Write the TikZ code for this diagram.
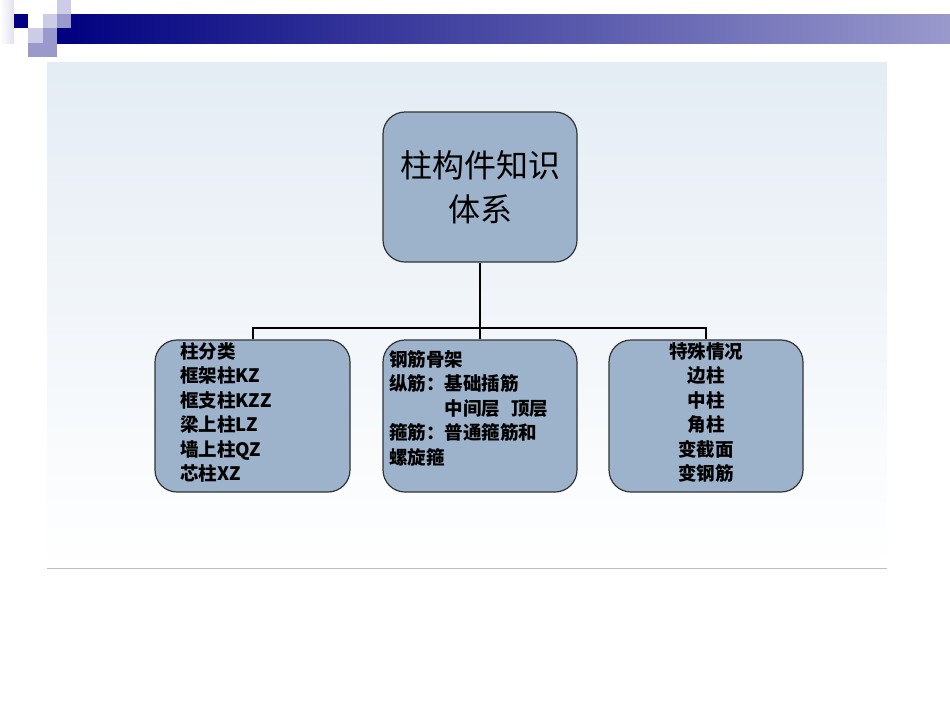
\documentclass[tikz,border=0pt]{standalone}
\usepackage{fontspec}
\newfontfamily\cjk{Noto Sans CJK SC}
\definecolor{boxfill}{HTML}{9DB3CB}
\definecolor{navy}{HTML}{000080}
\definecolor{lav}{HTML}{CCCCE6}
\definecolor{mid}{HTML}{9999CC}
\definecolor{paneltop}{HTML}{E4ECF4}
\begin{document}
\begin{tikzpicture}[x=1pt,y=-1pt,
  box/.style={draw=black!80,line width=1.2pt,fill=boxfill,rounded corners=22pt},
  lbl/.style={font=\cjk\bfseries\fontsize{18.5}{24.5}\selectfont,inner sep=0pt}]
\useasboundingbox (0,0) rectangle (950,713);
\fill[white] (0,0) rectangle (950,713);
% header decoration
\shade[left color=white,right color=lav!60] (0,0) rectangle (14,43);
\shade[left color=navy,right color=mid] (57,14) rectangle (950,43);
\fill[navy] (14,14) rectangle (28,28);
\fill[lav] (43,14) rectangle (57,28);
\fill[lav] (57,0) rectangle (71,14);
\fill[mid] (57,14) rectangle (71,28);
\fill[lav] (28,28) rectangle (43,43);
\fill[mid] (43,28) rectangle (57,43);
\fill[mid] (28,43) rectangle (57,57);
% panel
\shade[top color=paneltop,bottom color=white] (47,62) rectangle (887,568);
\draw[gray!50] (47,568) -- (887,568);
% nodes
\node[box,minimum width=194pt,minimum height=150pt] (top) at (480,187) {};
\node[font=\cjk\fontsize{32}{44}\selectfont,align=center] (toptxt) at (top) {柱构件知识\\体系};
\node[box,minimum width=195pt,minimum height=152pt] (l) at (252.5,416) {};
\node[box,minimum width=194pt,minimum height=152pt] (m) at (480,416) {};
\node[box,minimum width=194pt,minimum height=152pt] (r) at (706,416) {};
\node[lbl,align=left,anchor=north west] (lt) at (180,342) {柱分类\\框架柱KZ\\框支柱KZZ\\梁上柱LZ\\墙上柱QZ\\芯柱XZ};
\node[lbl,align=left,anchor=north west] (mt) at (389,350) {钢筋骨架\\纵筋：基础插筋\\\hspace{3em}中间层\hspace{0.6em}顶层\\箍筋：普通箍筋和\\螺旋箍};
\node[lbl,align=center,anchor=north] (rt) at (706,342) {特殊情况\\边柱\\中柱\\角柱\\变截面\\变钢筋};
% connectors
\coordinate (j) at (480,328);
\draw[line width=2pt] (top.south) -- (j);
\draw[line width=2pt] (l.north) |- (j) -| (r.north);
\draw[line width=2pt] (j) -- (m.north);
\end{tikzpicture}
\end{document}
